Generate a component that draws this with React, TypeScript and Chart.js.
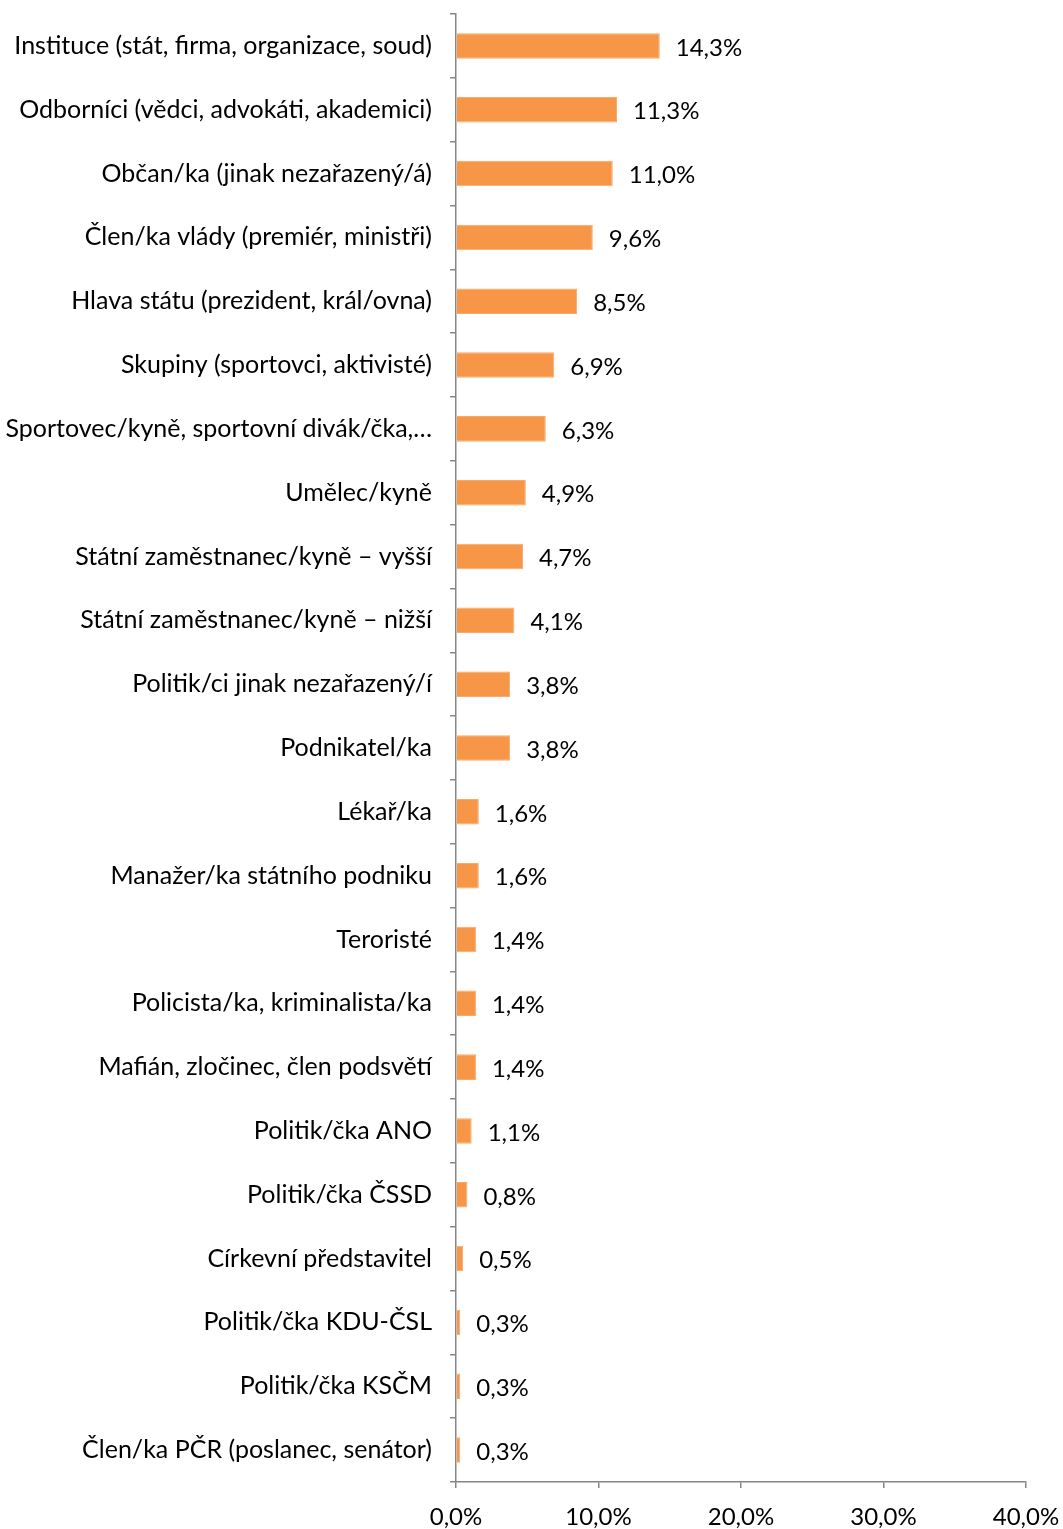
import React, { useEffect, useRef } from "react";
import { Chart, registerables } from "chart.js";

Chart.register(...registerables);

const categories: string[] = [
  "Instituce (stát, firma, organizace, soud)",
  "Odborníci (vědci, advokáti, akademici)",
  "Občan/ka (jinak nezařazený/á)",
  "Člen/ka vlády (premiér, ministři)",
  "Hlava státu (prezident, král/ovna)",
  "Skupiny (sportovci, aktivisté)",
  "Sportovec/kyně, sportovní divák/čka,…",
  "Umělec/kyně",
  "Státní zaměstnanec/kyně – vyšší",
  "Státní zaměstnanec/kyně – nižší",
  "Politik/ci jinak nezařazený/í",
  "Podnikatel/ka",
  "Lékař/ka",
  "Manažer/ka státního podniku",
  "Teroristé",
  "Policista/ka, kriminalista/ka",
  "Mafián, zločinec, člen podsvětí",
  "Politik/čka ANO",
  "Politik/čka ČSSD",
  "Církevní představitel",
  "Politik/čka KDU-ČSL",
  "Politik/čka KSČM",
  "Člen/ka PČR (poslanec, senátor)",
];

const values: number[] = [
  14.3, 11.3, 11.0, 9.6, 8.5, 6.9, 6.3, 4.9, 4.7, 4.1, 3.8, 3.8, 1.6, 1.6, 1.4,
  1.4, 1.4, 1.1, 0.8, 0.5, 0.3, 0.3, 0.3,
];

const xTicks: number[] = [0, 10, 20, 30, 40];

const FONT = "Lato, 'Open Sans', sans-serif";
const fmt = (v: number) => v.toFixed(1).replace(".", ",") + "%";

const valueLabels = {
  id: "valueLabels",
  afterDatasetsDraw(chart: any) {
    const ctx = chart.ctx;
    const meta = chart.getDatasetMeta(0);
    ctx.save();
    ctx.font = `24px ${FONT}`;
    ctx.fillStyle = "#000";
    ctx.textAlign = "left";
    ctx.textBaseline = "middle";
    meta.data.forEach((el: any, i: number) => {
      ctx.fillText(fmt(values[i]), el.x + 16, el.y + 2);
    });
    ctx.restore();
  },
};

export default function App() {
  const ref = useRef<HTMLCanvasElement>(null);
  useEffect(() => {
    document.body.style.margin = "0";
    const chart = new Chart(ref.current!, {
      type: "bar",
      data: {
        labels: categories,
        datasets: [
          {
            data: values,
            backgroundColor: "#F79646",
            borderColor: "#F9A96A",
            borderWidth: 1,
            categoryPercentage: 1,
            barPercentage: 0.4,
          },
        ],
      },
      options: {
        indexAxis: "y",
        animation: false,
        responsive: false,
        layout: { padding: { top: 14, right: 37, left: 0, bottom: 0 } },
        plugins: { legend: { display: false }, tooltip: { enabled: false } },
        scales: {
          x: {
            min: 0,
            max: 40,
            afterBuildTicks: (scale: any) => {
              scale.ticks = xTicks.map((v) => ({ value: v }));
            },
            afterFit: (scale: any) => {
              scale.height = 47;
              scale.paddingLeft = 0;
              scale.paddingRight = 0;
            },
            grid: {
              drawOnChartArea: false,
              drawTicks: true,
              tickLength: 6,
              color: "#868686",
              lineWidth: 1.5,
            },
            border: { color: "#868686", width: 1.5 },
            ticks: {
              color: "#000",
              font: { family: FONT, size: 24 },
              padding: 15,
              maxRotation: 0,
              callback: (v: any) => fmt(Number(v)),
            },
          },
          y: {
            afterFit: (scale: any) => {
              scale.width = 456;
              scale.paddingTop = 0;
              scale.paddingBottom = 0;
            },
            grid: {
              drawOnChartArea: false,
              drawTicks: true,
              tickLength: 6,
              color: "#868686",
              lineWidth: 1.5,
              offset: true,
            },
            border: { color: "#868686", width: 1.5 },
            ticks: {
              color: "#000",
              font: { family: FONT, size: 25 },
              padding: 18,
              autoSkip: false,
            },
          },
        },
      },
      plugins: [valueLabels],
    });
    return () => chart.destroy();
  }, []);
  return (
    <div style={{ width: 1063, height: 1529 }}>
      <canvas ref={ref} width={1063} height={1529} style={{ display: "block" }} />
    </div>
  );
}
